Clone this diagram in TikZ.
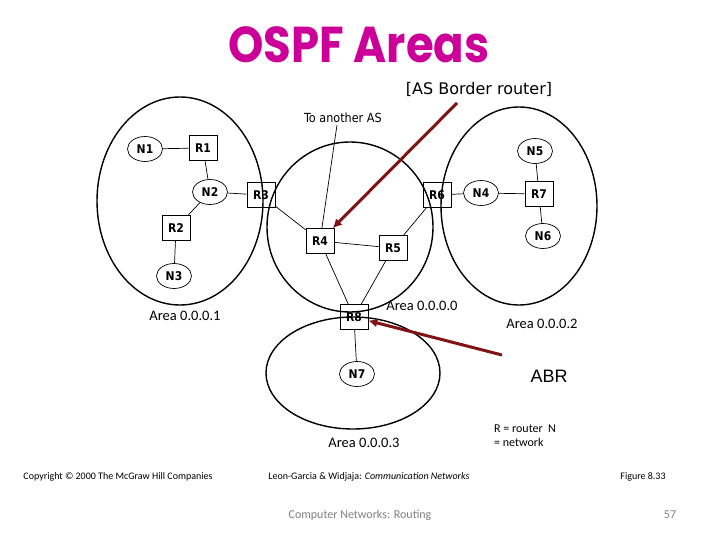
\documentclass[tikz,border=0pt]{standalone}
\usepackage{fontspec}
\setmainfont{Carlito}
\newfontfamily\nodefont{DejaVu Sans Condensed}
\newfontfamily\titlefont{Poppins}
\newfontfamily\comicfont{DejaVu Sans}
\newfontfamily\abrfont{Liberation Sans}
\usetikzlibrary{shapes.geometric,arrows.meta}
\definecolor{titlemag}{RGB}{204,0,153}
\definecolor{arrowred}{RGB}{128,20,20}
\definecolor{footgray}{RGB}{128,128,128}
\tikzset{
  router/.style={draw, rectangle, minimum width=28pt, minimum height=25pt, inner sep=0pt, font=\nodefont\bfseries\fontsize{12}{14}\selectfont, line width=0.7pt},
  net/.style={draw, ellipse, minimum width=35pt, minimum height=25pt, inner sep=0pt, font=\nodefont\bfseries\fontsize{12}{14}\selectfont, line width=0.7pt},
  link/.style={line width=0.7pt},
  area/.style={line width=1.4pt},
  arealabel/.style={font=\fontsize{14.5}{16}\selectfont, inner sep=0pt},
  redarrow/.style={draw=arrowred, line width=3pt, -{Latex[length=9pt,width=9pt]}},
  foot/.style={font=\fontsize{10}{12}\selectfont, inner sep=0pt},
}
\begin{document}
\begin{tikzpicture}[x=1pt,y=-1pt]
\useasboundingbox (0,0) rectangle (720,540);
% title
\node[inner sep=0pt, text=titlemag, font=\titlefont\bfseries\fontsize{45}{50}\selectfont, yscale=1.12] (title) at (359,45) {OSPF Areas};
\node[inner sep=0pt, font=\comicfont\fontsize{16}{18}\selectfont] (asbrlabel) at (479,89) {[AS Border router]};
\node[inner sep=0pt, font=\nodefont\fontsize{12.5}{14}\selectfont] (toAS) at (343,118) {To another AS};
\coordinate (toASend) at (337,125);
% areas
\draw[area] (180,201) ellipse [x radius=83pt, y radius=104pt];
\draw[area] (350,227) ellipse [x radius=83pt, y radius=85pt];
\draw[area] (519,206) ellipse [x radius=78pt, y radius=99pt];
\draw[area] (353,373) ellipse [x radius=87pt, y radius=56pt];
% nodes
\node[net] (N1) at (145,149) {N1};
\node[router] (R1) at (203,148) {R1};
\node[net] (N2) at (210,192) {N2};
\node[router] (R2) at (176,228) {R2};
\node[net] (N3) at (174,276) {N3};
\node[router] (R3) at (261,195) {R3};
\node[router] (R4) at (320,241) {R4};
\node[router] (R5) at (393,248) {R5};
\node[router] (R6) at (437,195) {R6};
\node[net] (N4) at (481,193) {N4};
\node[router] (R7) at (539,194) {R7};
\node[net] (N5) at (535,151) {N5};
\node[net] (N6) at (543,236) {N6};
\node[router] (R8) at (354,317) {R8};
\node[net] (N7) at (357,374) {N7};
% links
\draw[link] (N1) -- (R1);
\draw[link] (R1) -- (N2);
\draw[link] (N2) -- (R3);
\draw[link] (N2) -- (R2);
\draw[link] (R2) -- (N3);
\draw[link] (R3) -- (R4);
\draw[link] (R4) -- (R5);
\draw[link] (R4) -- (R8);
\draw[link] (R5) -- (R8);
\draw[link] (R5) -- (R6);
\draw[link] (R6) -- (N4);
\draw[link] (N4) -- (R7);
\draw[link] (R7) -- (N5);
\draw[link] (R7) -- (N6);
\draw[link] (R8) -- (N7);
\draw[link] (toASend) -- (R4);
% area labels
\node[arealabel] (a1) at (185,316) {Area 0.0.0.1};
\node[arealabel] (a0) at (422,306) {Area 0.0.0.0};
\node[arealabel] (a2) at (542,324) {Area 0.0.0.2};
\node[arealabel] (a3) at (364,443) {Area 0.0.0.3};
% ABR
\node[inner sep=0pt, font=\abrfont\fontsize{18}{20}\selectfont] (abr) at (549,376) {ABR};
\node[inner sep=0pt, align=left, font=\fontsize{12}{14}\selectfont, anchor=north west] (legend) at (494,425) {R = router\ \ N\\= network};
% red arrows
\coordinate (asbrstart) at (457,103);
\coordinate (abrstart) at (502,355);
\draw[redarrow] (asbrstart) -- (R4);
\draw[redarrow] (abrstart) -- (R8);
% footer
\node[foot] (copy) at (118,477) {Copyright © 2000 The McGraw Hill Companies};
\node[foot] (book) at (369,477) {Leon-Garcia \& Widjaja: \textit{Communication Networks}};
\node[foot] (fig) at (643,477) {Figure 8.33};
\node[inner sep=0pt, text=footgray, font=\fontsize{12}{14}\selectfont] (course) at (360,515) {Computer Networks: Routing};
\node[inner sep=0pt, text=footgray, font=\fontsize{12}{14}\selectfont] (page) at (670,515) {57};
\end{tikzpicture}
\end{document}
